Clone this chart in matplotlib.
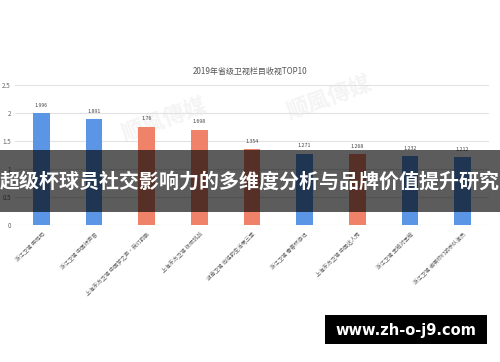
import matplotlib
matplotlib.use("Agg")
import matplotlib.pyplot as plt
from matplotlib.patches import Rectangle

plt.rcParams["font.family"] = ["Noto Sans CJK SC", "DejaVu Sans"]

# chart data
programs = [
    "浙江卫视 奔跑吧",
    "浙江卫视 中国好声音",
    "上海东方卫视 中国梦之声·我们的歌",
    "上海东方卫视 极限挑战",
    "湖南卫视 向往的生活第三季",
    "浙江卫视 青春环游记",
    "上海东方卫视 中国达人秀",
    "浙江卫视 王牌对王牌",
    "浙江卫视 嘲笑你们的乐队演员",
]
ratings = [1.996, 1.891, 1.76, 1.698, 1.354, 1.271, 1.268, 1.232, 1.212]
channel_group = ["zj", "zj", "sh", "sh", "sh", "zj", "sh", "zj", "zj"]
y_ticks = [0, 0.5, 1, 1.5, 2, 2.5]
y_tick_labels = ["0", "0.5", "1", "1.5", "2", "2.5"]

chart_title = "2019年省级卫视栏目收视TOP10"
banner_text = "超级杯球员社交影响力的多维度分析与品牌价值提升研究"
site_text = "www.zh-o-j9.com"

BLUE = "#5b95e5"
SALMON = "#f0826a"
GROUP_COLORS = {"zj": BLUE, "sh": SALMON}
GRID = "#e2e2e2"
TEXT_GRAY = "#666666"

fig = plt.figure(figsize=(5.0, 3.62), dpi=100)
fig.patch.set_facecolor("white")

# faint media watermarks, behind the chart
for wx, wy in [(0.33, 0.67), (0.66, 0.73)]:
    fig.text(wx, wy, "顺風傳媒", ha="center", va="center", fontsize=16,
             color="#f4f4f4", rotation=20, fontweight="bold", zorder=0)

ax = fig.add_axes([0.03, 0.378, 0.948, 0.387])
ax.set_zorder(1)
ax.patch.set_alpha(0)
x = list(range(len(ratings)))
colors = [GROUP_COLORS[g] for g in channel_group]
bars = ax.bar(x, ratings, width=0.32, color=colors, zorder=2)

ax.set_xlim(-0.5, len(ratings) - 0.5)
ax.set_ylim(0, 2.5)
ax.set_yticks(y_ticks)
ax.set_yticklabels(y_tick_labels)
ax.yaxis.grid(True, color=GRID, linewidth=0.8, zorder=0)
ax.set_axisbelow(True)
for s in ax.spines.values():
    s.set_visible(False)
ax.tick_params(axis="y", length=0, labelsize=4.5, colors=TEXT_GRAY, pad=3)
ax.tick_params(axis="x", length=0, pad=4)

ax.set_xticks(x)
ax.set_xticklabels(programs, rotation=45, ha="right", rotation_mode="anchor",
                   fontsize=3.9, color=TEXT_GRAY)

# value labels above each bar
for rect, v in zip(bars, ratings):
    ax.annotate(f"{v:g}", (rect.get_x() + rect.get_width() / 2, v),
                xytext=(0, 4), textcoords="offset points",
                ha="center", va="bottom", fontsize=3.8, color="#444444")

fig.text(0.5, 0.803, chart_title, ha="center", va="center",
         fontsize=5.8, color="#555555")

# dark translucent banner across the middle
fig.patches.append(Rectangle((0, 1 - 212 / 362), 1, 62 / 362,
                             transform=fig.transFigure, facecolor="black",
                             alpha=0.64, edgecolor="none", zorder=5))
fig.text(0.5, 1 - 181 / 362, banner_text, ha="center", va="center",
         fontsize=14.4, fontweight="bold", color="white", zorder=6)

# site box bottom right
fig.patches.append(Rectangle((325 / 500, 1 - 344 / 362), 162 / 500, 29 / 362,
                             transform=fig.transFigure, facecolor="black",
                             edgecolor="none", zorder=5))
fig.text(406 / 500, 1 - 330 / 362, site_text, ha="center", va="center",
         fontsize=10.5, fontweight="bold", color="white",
         family="DejaVu Sans", zorder=6)

fig.savefig("out.png", dpi=100, facecolor="white")
